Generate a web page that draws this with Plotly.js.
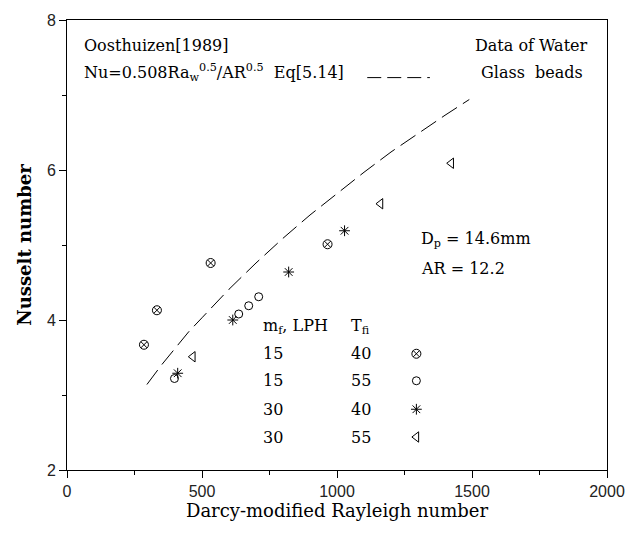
<!DOCTYPE html>
<html>
<head>
<meta charset="utf-8">
<script src="https://cdn.plot.ly/plotly-3.0.1.min.js"></script>
<style>html,body{margin:0;padding:0;background:#fff;}#chart{width:643px;height:536px;}</style>
</head>
<body>
<div id="chart"></div>
<script>
// Correlation line (Eq 5.14)
var corrRa = [296, 350, 400, 450, 500, 600, 700, 800, 900, 1000, 1100, 1200, 1300, 1400, 1490];
var corrNu = [3.14, 3.40, 3.62, 3.84, 4.03, 4.41, 4.76, 5.09, 5.40, 5.69, 5.97, 6.24, 6.49, 6.73, 6.94];

// 15 LPH, 40
var s1Ra = [285, 333, 532, 965];
var s1Nu = [3.67, 4.13, 4.76, 5.01];
// 15 LPH, 55
var s2Ra = [398, 636, 673, 710];
var s2Nu = [3.22, 4.08, 4.19, 4.31];
// 30 LPH, 40
var s3Ra = [410, 614, 821, 1028];
var s3Nu = [3.29, 4.00, 4.64, 5.19];
// 30 LPH, 55
var s4Ra = [466, 1161, 1423];
var s4Nu = [3.51, 5.55, 6.09];

// legend table
var legFlow = ['15', '15', '30', '30'];
var legTemp = ['40', '55', '40', '55'];
var legSymbols = ['circle-x-open', 'circle-open', 'asterisk-open', 'triangle-left-open'];
var legKeyRa = 1294;
var legRowNu = [3.55, 3.19, 2.81, 2.44];
var legHeadNu = 3.91;

var xTicks = [0, 500, 1000, 1500, 2000];
var yTicks = [2, 4, 6, 8];

var serif = 'DejaVu Serif, Liberation Serif, serif';
var sans = 'Liberation Sans, Arial, sans-serif';

function mk(x, y, sym, size) {
  return {x: x, y: y, type: 'scatter', mode: 'markers', showlegend: false, hoverinfo: 'skip',
    marker: {symbol: sym, size: size, color: '#000', line: {color: '#000', width: 1}}};
}

var traces = [
  {x: corrRa, y: corrNu, type: 'scatter', mode: 'lines', showlegend: false, hoverinfo: 'skip',
   line: {color: '#000', width: 1, dash: '18px,7px'}},
  mk(s1Ra, s1Nu, 'circle-x-open', 9),
  mk(s2Ra, s2Nu, 'circle-open', 8),
  mk(s3Ra, s3Nu, 'asterisk-open', 9),
  mk(s4Ra, s4Nu, 'triangle-left-open', 9)
];
for (var i = 0; i < legSymbols.length; i++) {
  traces.push(mk([legKeyRa], [legRowNu[i]], legSymbols[i], legSymbols[i] === 'circle-open' ? 8 : 9));
}

var ann = [];
function txt(x, y, t, anchor, xref, yref, size) {
  ann.push({x: x, y: y, xref: xref || 'x', yref: yref || 'y', text: t, showarrow: false,
    xanchor: anchor || 'left', yanchor: 'middle',
    font: {family: serif, size: size || 16, color: '#000'}});
}
txt(0.027, 0.944, 'Oosthuizen[1989]', 'left', 'paper', 'paper');
txt(0.027, 0.884, 'Nu=0.508Ra<sub>w</sub><sup>0.5</sup>/AR<sup>0.5</sup>  Eq[5.14]', 'left', 'paper', 'paper');
txt(0.968, 0.944, 'Data of Water', 'right', 'paper', 'paper');
txt(0.959, 0.884, 'Glass  beads', 'right', 'paper', 'paper');
txt(1305, 5.07, 'D<sub>p</sub> = 14.6mm', 'left');
txt(1305, 4.69, 'AR = 12.2', 'left');
txt(720, legHeadNu, 'm<sub>f</sub>, LPH', 'left');
txt(1045, legHeadNu, 'T<sub>fi</sub>', 'left');
for (var j = 0; j < legFlow.length; j++) {
  txt(720, legRowNu[j], legFlow[j], 'left');
  txt(1045, legRowNu[j], legTemp[j], 'left');
}

var layout = {
  width: 643, height: 536,
  margin: {l: 67, r: 36, t: 20, b: 66},
  paper_bgcolor: '#fff', plot_bgcolor: '#fff',
  showlegend: false,
  xaxis: {range: [0, 2000], tickvals: xTicks, ticktext: xTicks.map(String),
    showgrid: false, zeroline: false, showline: true, mirror: true, linecolor: '#000', linewidth: 1,
    ticks: 'outside', ticklen: 7, tickcolor: '#000',
    minor: {dtick: 250, tick0: 0, ticks: 'outside', ticklen: 4, tickcolor: '#000', showgrid: false},
    tickfont: {family: sans, size: 16, color: '#222'},
    title: {text: 'Darcy-modified Rayleigh number', font: {family: serif, size: 18, color: '#000'}, standoff: 5}},
  yaxis: {range: [2, 8], tickvals: yTicks, ticktext: yTicks.map(String),
    showgrid: false, zeroline: false, showline: true, mirror: true, linecolor: '#000', linewidth: 1,
    ticks: 'outside', ticklen: 7, tickcolor: '#000',
    minor: {dtick: 1, tick0: 0, ticks: 'outside', ticklen: 4, tickcolor: '#000', showgrid: false},
    tickfont: {family: sans, size: 16, color: '#222'},
    title: {text: '<b>Nusselt number</b>', font: {family: serif, size: 18, color: '#000'}, standoff: 10}},
  annotations: ann,
  shapes: [
    {type: 'line', xref: 'paper', yref: 'paper', x0: 0.556, x1: 0.672, y0: 0.872, y1: 0.872,
     line: {color: '#000', width: 1, dash: '14px,6px'}}
  ]
};

Plotly.newPlot('chart', traces, layout, {displayModeBar: false});
</script>
</body>
</html>
